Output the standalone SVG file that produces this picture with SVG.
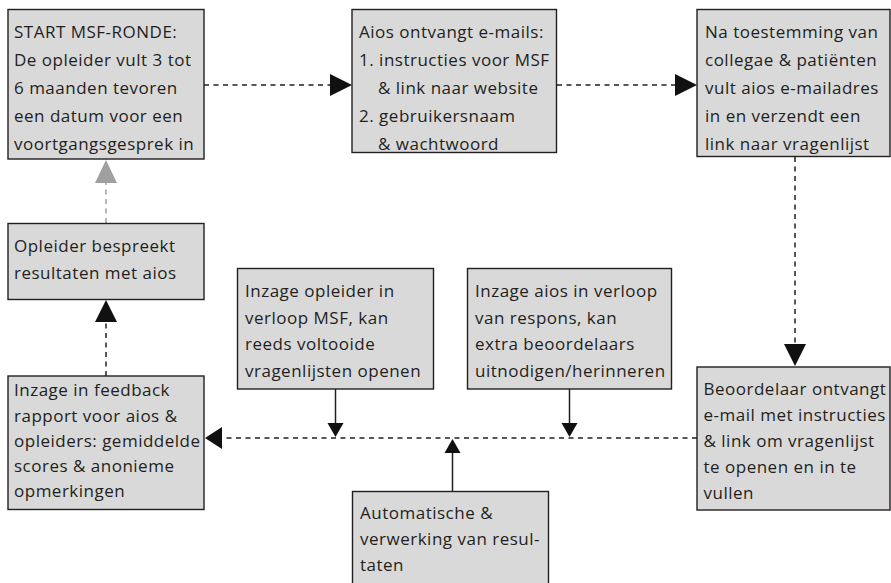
<svg xmlns="http://www.w3.org/2000/svg" width="891" height="583" viewBox="0 0 891 583">
<defs>
<style>
.box{fill:#d9d9d9;stroke:#231f20;stroke-width:1.4}
.t{font-family:"Open Sans","Noto Sans",sans-serif;font-size:17px;letter-spacing:0.5px;fill:#231f20}
.d{fill:none;stroke:#231f20;stroke-width:1.5;stroke-dasharray:5 4.5}
.dg{fill:none;stroke:#a0a0a0;stroke-width:1.5;stroke-dasharray:5 4.5}
.s{fill:none;stroke:#231f20;stroke-width:1.5}
</style>
</defs>
<rect width="891" height="583" fill="#ffffff"/>
<g id="connectors">
<line class="d" x1="204" y1="85" x2="331" y2="85"/>
<polygon points="352,85 330,74 330,96" fill="#111"/>
<line class="d" x1="557" y1="85" x2="676" y2="85"/>
<polygon points="697,85 675,74 675,96" fill="#111"/>
<line class="d" x1="795" y1="157" x2="795" y2="346"/>
<polygon points="795,366 784,344 806,344" fill="#111"/>
<line class="d" x1="697" y1="438" x2="221" y2="438"/>
<polygon points="205,438 222,427 222,449" fill="#111"/>
<line class="d" x1="106" y1="376" x2="106" y2="321"/>
<polygon points="106,300 95,322 117,322" fill="#111"/>
<line class="dg" x1="106" y1="223" x2="106" y2="182"/>
<polygon points="106,160 95,183 117,183" fill="#a0a0a0"/>
<line class="s" x1="335.5" y1="389" x2="335.5" y2="424"/>
<polygon points="335.5,437 327.5,423 343.5,423" fill="#111"/>
<line class="s" x1="569.5" y1="389" x2="569.5" y2="424"/>
<polygon points="569.5,437 561.5,423 577.5,423" fill="#111"/>
<line class="s" x1="452.5" y1="491.5" x2="452.5" y2="452"/>
<polygon points="452.5,439 444.5,453 460.5,453" fill="#111"/>
</g>
<g id="n1">
<rect class="box" x="8" y="9.5" width="196" height="149.5"/>
<text class="t" x="14" y="38">START MSF-RONDE:</text>
<text class="t" x="14" y="66">De opleider vult 3 tot</text>
<text class="t" x="14" y="94">6 maanden tevoren</text>
<text class="t" x="14" y="122">een datum voor een</text>
<text class="t" x="14" y="149.5">voortgangsgesprek in</text>
</g>
<g id="n2">
<rect class="box" x="352" y="9.5" width="204.5" height="143"/>
<text class="t" x="359" y="38">Aios ontvangt e-mails:</text>
<text class="t" x="359" y="66">1. instructies voor MSF</text>
<text class="t" x="378" y="94">&amp; link naar website</text>
<text class="t" x="359" y="122">2. gebruikersnaam</text>
<text class="t" x="378" y="149.5">&amp; wachtwoord</text>
</g>
<g id="n3">
<rect class="box" x="697" y="9.5" width="193" height="147"/>
<text class="t" x="705" y="38">Na toestemming van</text>
<text class="t" x="705" y="66">collegae &amp; patiënten</text>
<text class="t" x="705" y="94">vult aios e-mailadres</text>
<text class="t" x="705" y="122">in en verzendt een</text>
<text class="t" x="705" y="149.5">link naar vragenlijst</text>
</g>
<g id="n4">
<rect class="box" x="8" y="223.5" width="196" height="76"/>
<text class="t" x="14" y="252">Opleider bespreekt</text>
<text class="t" x="14" y="278.5">resultaten met aios</text>
</g>
<g id="n5">
<rect class="box" x="8" y="376" width="196" height="133.5"/>
<text class="t" x="14" y="396">Inzage in feedback</text>
<text class="t" x="14" y="421.5">rapport voor aios &amp;</text>
<text class="t" x="14" y="447">opleiders: gemiddelde</text>
<text class="t" x="14" y="472">scores &amp; anonieme</text>
<text class="t" x="14" y="497">opmerkingen</text>
</g>
<g id="n6">
<rect class="box" x="697" y="367" width="193" height="143"/>
<text class="t" x="703.5" y="394.5">Beoordelaar ontvangt</text>
<text class="t" x="703.5" y="420.5">e-mail met instructies</text>
<text class="t" x="703.5" y="446.5">&amp; link om vragenlijst</text>
<text class="t" x="703.5" y="472.5">te openen en in te</text>
<text class="t" x="703.5" y="498.5">vullen</text>
</g>
<g id="n7">
<rect class="box" x="237.5" y="268.5" width="196" height="120.5"/>
<text class="t" x="245" y="297">Inzage opleider in</text>
<text class="t" x="245" y="323.7">verloop MSF, kan</text>
<text class="t" x="245" y="350.3">reeds voltooide</text>
<text class="t" x="245" y="377">vragenlijsten openen</text>
</g>
<g id="n8">
<rect class="box" x="467.5" y="268.5" width="204" height="120.5"/>
<text class="t" x="475" y="297">Inzage aios in verloop</text>
<text class="t" x="475" y="323.7">van respons, kan</text>
<text class="t" x="475" y="350.3">extra beoordelaars</text>
<text class="t" x="475" y="377">uitnodigen/herinneren</text>
</g>
<g id="n9">
<rect class="box" x="352.5" y="491.5" width="196" height="100"/>
<text class="t" x="360" y="518.5">Automatische &amp;</text>
<text class="t" x="360" y="544.5">verwerking van resul-</text>
<text class="t" x="360" y="570.5">taten</text>
</g>
</svg>
